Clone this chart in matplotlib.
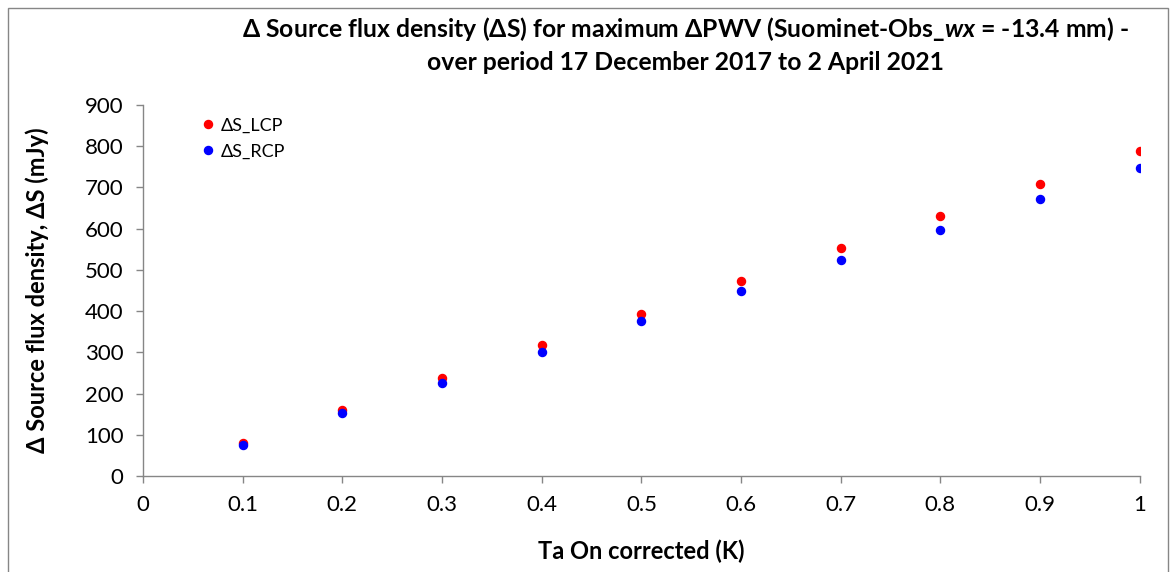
import matplotlib.pyplot as plt
from matplotlib.patches import Rectangle

# values
ta_on = [0.1, 0.2, 0.3, 0.4, 0.5, 0.6, 0.7, 0.8, 0.9, 1.0]
ds_lcp = [79, 159, 237, 317, 394, 473, 552, 630, 708, 788]
ds_rcp = [75, 152, 225, 300, 375, 449, 523, 598, 673, 748]
x_ticks = [0, 0.1, 0.2, 0.3, 0.4, 0.5, 0.6, 0.7, 0.8, 0.9, 1]
x_tick_labels = ['0', '0.1', '0.2', '0.3', '0.4', '0.5', '0.6', '0.7', '0.8', '0.9', '1']
y_ticks = [0, 100, 200, 300, 400, 500, 600, 700, 800, 900]

plt.rcParams['font.family'] = ['Lato', 'DejaVu Sans']
plt.rcParams['mathtext.fontset'] = 'custom'
plt.rcParams['mathtext.it'] = 'Lato:italic:bold'
grey = '#868686'

fig = plt.figure(figsize=(11.72, 5.72), dpi=100)
ax = fig.add_axes([0.122, 0.1678, 0.8505, 0.6486])

ax.plot(ta_on, ds_lcp, 'o', color='#ff0000', markersize=5.8, label='ΔS_LCP')
ax.plot(ta_on, ds_rcp, 'o', color='#0000ff', markersize=5.8, label='ΔS_RCP')

ax.set_xlim(0, 1)
ax.set_ylim(0, 900)
ax.set_xticks(x_ticks)
ax.set_xticklabels(x_tick_labels)
ax.set_yticks(y_ticks)
ax.tick_params(axis='both', labelsize=16, color=grey, length=5, width=1, pad=9)
for side in ['top', 'right']:
    ax.spines[side].set_visible(False)
for side in ['left', 'bottom']:
    ax.spines[side].set_color(grey)
    ax.spines[side].set_linewidth(1)

ax.set_xlabel('Ta On corrected (K)', fontsize=17, fontweight='bold', labelpad=17)
ax.set_ylabel('Δ Source flux density, ΔS (mJy)', fontsize=17, fontweight='bold', labelpad=26)

ax.legend(loc='upper left', bbox_to_anchor=(0.04, 1.005), frameon=False,
          fontsize=13, handletextpad=0.1, handlelength=1.2, labelspacing=0.55,
          borderpad=0.3)

fig.text(0.585, 0.922,
         'Δ Source flux density (ΔS) for maximum ΔPWV (Suominet-Obs_$\\it{wx}$ = -13.4 mm) -\n'
         'over period 17 December 2017 to 2 April 2021',
         ha='center', va='center', fontsize=17.8, fontweight='bold', linespacing=1.4)

fig.patches.append(Rectangle((0.007, -0.01), 0.99, 0.996, transform=fig.transFigure,
                             fill=False, edgecolor=grey, linewidth=1))

fig.savefig('out.png', dpi=100)
